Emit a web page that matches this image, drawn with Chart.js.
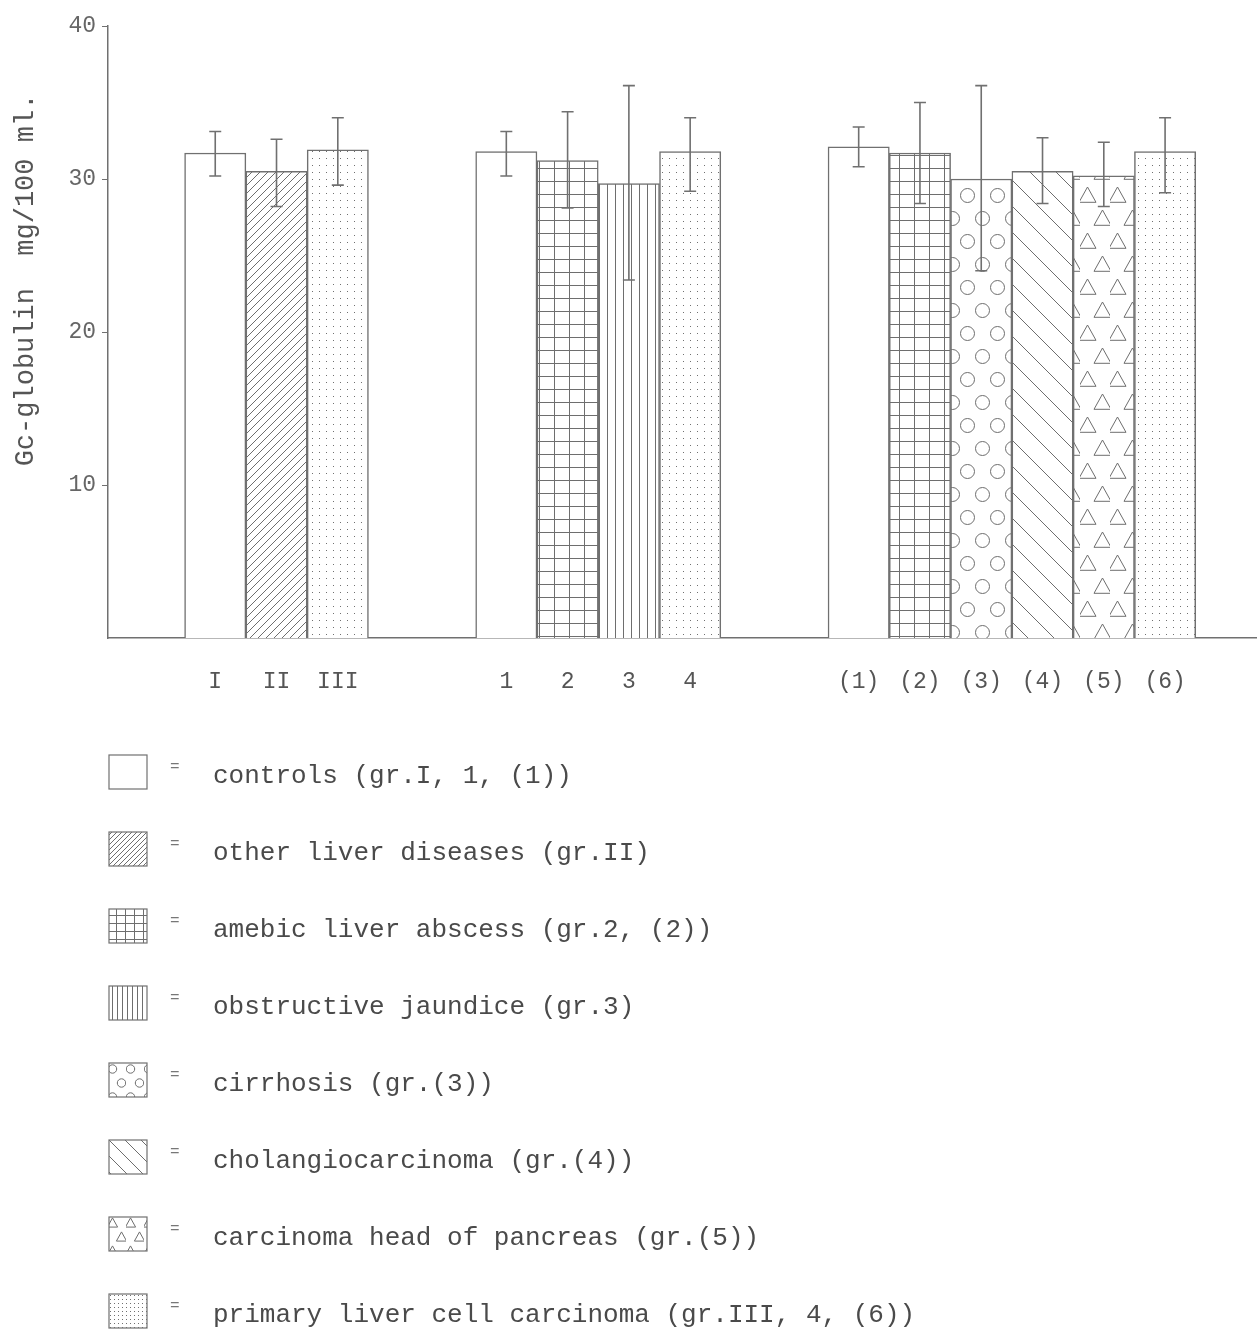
<!DOCTYPE html>
<html>
<head>
<meta charset="utf-8">
<script src="https://cdn.jsdelivr.net/npm/chart.js@4/dist/chart.umd.min.js"></script>
<style>
body{margin:0;background:#fff;width:1257px;height:1332px;position:relative;overflow:hidden;font-family:"Liberation Mono",monospace;}
#wrap{position:absolute;left:0;top:0;width:1257px;height:720px;}
#legend{position:absolute;left:108px;top:754px;}
.row{height:77px;display:flex;align-items:flex-start;color:#4a4a4a;font-size:26px;}
.row canvas{display:block;}
.eq{width:20px;margin-left:22px;font-size:16px;color:#777;margin-top:4px;}
.txt{margin-left:23px;margin-top:7px;}
</style>
</head>
<body>
<div id="wrap"><canvas id="myChart"></canvas></div>
<div id="legend"></div>
<script>
// 막대 데이터 (3개 그룹)
var groupLabels = [['I','II','III'], ['1','2','3','4'], ['(1)','(2)','(3)','(4)','(5)','(6)']];
var groupKinds = [['controls','other','primary'], ['controls','amebic','obstructive','primary'], ['controls','amebic','cirrhosis','cholangio','pancreas','primary']];
var means = [31.7, 30.5, 31.9, 31.8, 31.2, 29.7, 31.8, 32.1, 31.7, 30.0, 30.5, 30.2, 31.8];
var errHigh = [33.1, 32.6, 34.0, 33.1, 34.4, 36.1, 34.0, 33.4, 35.0, 36.1, 32.7, 32.4, 34.0];
var errLow = [30.2, 28.2, 29.6, 30.2, 28.1, 23.4, 29.2, 30.8, 28.4, 24.0, 28.4, 28.2, 29.1];
var yTicks = [10, 20, 30, 40];
var legendKinds = ['controls','other','amebic','obstructive','cirrhosis','cholangio','pancreas','primary'];
var legendTexts = ['controls (gr.I, 1, (1))', 'other liver diseases (gr.II)', 'amebic liver abscess (gr.2, (2))', 'obstructive jaundice (gr.3)', 'cirrhosis (gr.(3))', 'cholangiocarcinoma (gr.(4))', 'carcinoma head of pancreas (gr.(5))', 'primary liver cell carcinoma (gr.III, 4, (6))'];

var lineColor = '#707070';

// 패턴 만들기
function makeTile(kind, s){
	var c = document.createElement('canvas');
	var w = 8, h = 8;
	if(kind=='other'){w=8;h=8;}
	if(kind=='amebic'){w=15;h=13;}
	if(kind=='obstructive'){w=8;h=8;}
	if(kind=='cirrhosis'){w=30;h=46;}
	if(kind=='cholangio'){w=26;h=26;}
	if(kind=='pancreas'){w=30;h=46;}
	if(kind=='primary'){w=7;h=7;}
	w = Math.round(w*s); h = Math.round(h*s);
	c.width = w; c.height = h;
	var g = c.getContext('2d');
	g.fillStyle = '#fff';
	g.fillRect(0,0,w,h);
	g.strokeStyle = '#6e6e6e';
	g.fillStyle = '#707070';
	g.lineWidth = 1;
	if(kind=='other'){
		g.beginPath();
		g.moveTo(0,h);g.lineTo(w,0);
		g.stroke();
		g.beginPath();g.moveTo(-1,1);g.lineTo(1,-1);g.moveTo(w-1,h+1);g.lineTo(w+1,h-1);g.stroke();
	}else if(kind=='amebic'){
		g.beginPath();
		g.moveTo(0,h-0.5);g.lineTo(w,h-0.5);
		g.moveTo(w-0.5,0);g.lineTo(w-0.5,h);
		g.stroke();
	}else if(kind=='obstructive'){
		g.beginPath();
		g.moveTo(w-0.5,0);g.lineTo(w-0.5,h);
		g.stroke();
	}else if(kind=='cirrhosis'){
		var r = 7*s;
		g.beginPath();g.arc(w*0.25,h*0.25,r,0,Math.PI*2);g.stroke();
		g.beginPath();g.arc(w*0.75,h*0.75,r,0,Math.PI*2);g.stroke();
	}else if(kind=='cholangio'){
		g.beginPath();
		g.moveTo(0,0);g.lineTo(w,h);
		g.moveTo(-w/2,h/2);g.lineTo(w/2,h*1.5);
		g.moveTo(w/2,-h/2);g.lineTo(w*1.5,h/2);
		g.stroke();
	}else if(kind=='pancreas'){
		var t = 8.5*s;
		function tri(cx,cy){
			g.beginPath();g.moveTo(cx,cy-t);g.lineTo(cx+t,cy+t*0.8);g.lineTo(cx-t,cy+t*0.8);g.closePath();g.stroke();
		}
		tri(w*0.25,h*0.25);
		tri(w*0.75,h*0.75);
	}else if(kind=='primary'){
		g.fillRect(Math.round(w/2),Math.round(h/2),1,1);
	}
	return c;
}

function makePattern(ctx, kind, s){
	if(kind=='controls'){return '#ffffff';}
	return ctx.createPattern(makeTile(kind, s), 'repeat');
}

// x 위치 (그룹 사이 간격 포함)
var labels = [], kinds = [], positions = [];
var pos = 1.75;
for(var i=0;i<groupLabels.length;i++){
	for(var j=0;j<groupLabels[i].length;j++){
		labels.push(groupLabels[i][j]);
		kinds.push(groupKinds[i][j]);
		positions.push(pos);
		pos += 1;
	}
	pos += 1.75;
}
var xMax = positions[positions.length-1] + 1.5;

var ctx = document.getElementById('myChart').getContext('2d');
var points = [];
var bg = [];
for(var k=0;k<means.length;k++){
	points.push({x:positions[k], y:means[k]});
	bg.push(makePattern(ctx, kinds[k], 1));
}

// 에러바 그리기
var errorBars = {
	id:'errorBars',
	afterDatasetsDraw:function(chart){
		var c = chart.ctx;
		var meta = chart.getDatasetMeta(0);
		var ys = chart.scales.y;
		c.save();
		c.strokeStyle = lineColor;
		c.lineWidth = 1.6;
		meta.data.forEach(function(bar, idx){
			var x = bar.x;
			var top = ys.getPixelForValue(errHigh[idx]);
			var bot = ys.getPixelForValue(errLow[idx]);
			c.beginPath();
			c.moveTo(x, top);c.lineTo(x, bot);
			c.moveTo(x-6, top);c.lineTo(x+6, top);
			c.moveTo(x-6, bot);c.lineTo(x+6, bot);
			c.stroke();
		});
		c.restore();
	}
};

// y축 제목
var yTitle = {
	id:'yTitle',
	afterDraw:function(chart){
		var c = chart.ctx;
		c.save();
		c.translate(26, 280);
		c.rotate(-Math.PI/2);
		c.font = '27px "Liberation Mono"';
		c.fillStyle = '#555';
		c.textAlign = 'center';
		c.textBaseline = 'middle';
		c.fillText('Gc-globulin  mg/100 ml.', 0, 0);
		c.restore();
	}
};

var myChart = new Chart(ctx, {
	type:'bar',
	data:{
		datasets:[{
			data:points,
			backgroundColor:bg,
			borderColor:lineColor,
			borderWidth:1.5,
			borderSkipped:'bottom',
			barPercentage:1,
			categoryPercentage:1
		}]
	},
	options:{
		responsive:true,
		maintainAspectRatio:false,
		animation:false,
		layout:{padding:{top:26,right:0,left:0,bottom:0}},
		plugins:{legend:{display:false}, tooltip:{enabled:false}},
		scales:{
			x:{
				type:'linear',
				offset:false,
				min:0,
				max:xMax,
				grid:{display:false, drawTicks:false},
				border:{display:true, color:lineColor, width:1.5},
				afterBuildTicks:function(scale){
					scale.ticks = positions.map(function(p){return {value:p};});
				},
				afterFit:function(scale){scale.height = 82;},
				ticks:{
					autoSkip:false,
					maxRotation:0,
					padding:30,
					color:'#555',
					font:{family:'Liberation Mono', size:23},
					callback:function(v){
						var idx = positions.indexOf(v);
						return idx>=0 ? labels[idx] : '';
					}
				}
			},
			y:{
				min:0,
				max:40,
				grid:{display:true, drawOnChartArea:false, tickLength:6, color:lineColor},
				border:{display:true, color:lineColor, width:1.5},
				afterBuildTicks:function(scale){
					scale.ticks = yTicks.map(function(v){return {value:v};});
				},
				afterFit:function(scale){scale.width = 108;},
				ticks:{
					padding:6,
					color:'#666',
					font:{family:'Liberation Mono', size:23}
				}
			}
		}
	},
	plugins:[errorBars, yTitle]
});

// 범례 (HTML)
var legendDiv = document.getElementById('legend');
legendKinds.forEach(function(kind, i){
	var row = document.createElement('div');
	row.className = 'row';
	var sw = document.createElement('canvas');
	sw.width = 40; sw.height = 36;
	var g = sw.getContext('2d');
	g.fillStyle = makePattern(g, kind, 0.6);
	g.fillRect(1,1,38,34);
	g.strokeStyle = lineColor;
	g.lineWidth = 1.2;
	g.strokeRect(1,1,38,34);
	row.appendChild(sw);
	var eq = document.createElement('div');
	eq.className = 'eq';
	eq.textContent = '=';
	row.appendChild(eq);
	var t = document.createElement('div');
	t.className = 'txt';
	t.textContent = legendTexts[i];
	row.appendChild(t);
	legendDiv.appendChild(row);
});
</script>
</body>
</html>
